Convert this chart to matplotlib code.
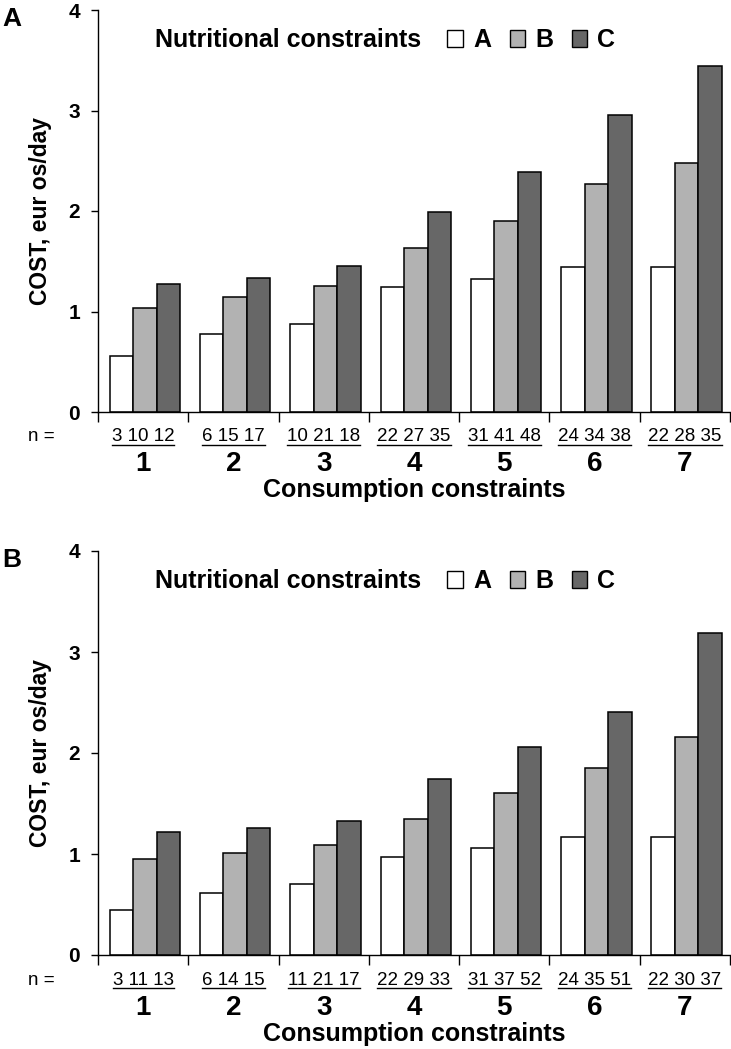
import matplotlib
matplotlib.use("Agg")
import matplotlib.pyplot as plt
from matplotlib.patches import Patch
from matplotlib.lines import Line2D
import numpy as np

FONT = ['Liberation Sans Narrow', 'Liberation Sans', 'DejaVu Sans']
plt.rcParams['font.family'] = FONT

groups = ['1', '2', '3', '4', '5', '6', '7']
series = ['A', 'B', 'C']

costA_A = [0.56, 0.78, 0.88, 1.24, 1.32, 1.44, 1.44]
costA_B = [1.03, 1.14, 1.25, 1.63, 1.90, 2.27, 2.48]
costA_C = [1.27, 1.33, 1.45, 1.99, 2.39, 2.96, 3.44]
nA = ['3 10 12', '6 15 17', '10 21 18', '22 27 35', '31 41 48', '24 34 38', '22 28 35']

costB_A = [0.45, 0.61, 0.70, 0.97, 1.06, 1.17, 1.17]
costB_B = [0.95, 1.01, 1.09, 1.35, 1.60, 1.85, 2.16]
costB_C = [1.22, 1.26, 1.33, 1.74, 2.06, 2.41, 3.19]
nB = ['3 11 13', '6 14 15', '11 21 17', '22 29 33', '31 37 52', '24 35 51', '22 30 37']

colors = ['white', '#b2b2b2', '#676767']
yticks = [0, 1, 2, 3, 4]

fig = plt.figure(figsize=(7.31, 10.49), dpi=100)
W, H = 731, 1049

def make_panel(rect, label, vals, ns):
    ax = fig.add_axes(rect)
    x = np.arange(len(groups))
    bw = 0.26
    for k, (v, c) in enumerate(zip(vals, colors)):
        ax.bar(x + (k - 1) * bw + 0.02, v, width=bw, color=c, edgecolor='black', linewidth=1.1)
    ax.set_xlim(-0.5, len(groups) - 0.5)
    ax.set_ylim(0, 4)
    ax.spines['top'].set_visible(False)
    ax.spines['right'].set_visible(False)
    ax.spines['left'].set_linewidth(1.0)
    ax.spines['bottom'].set_linewidth(1.0)
    ax.set_yticks(yticks)
    ax.set_yticklabels([str(t) for t in yticks], fontsize=15, fontweight='bold')
    ax.tick_params(axis='y', direction='out', length=5, width=1.0, pad=8)
    ax.set_xticks(np.arange(-0.5, len(groups), 1.0))
    ax.set_xticklabels([])
    ax.tick_params(axis='x', direction='out', length=7, width=1.0)
    ax.set_ylabel('COST, eur os/day', fontsize=16.5, fontweight='bold', labelpad=12)
    trans = ax.get_xaxis_transform()
    ntexts = []
    for i, (g, n) in enumerate(zip(groups, ns)):
        t = ax.text(i, -0.062, n, transform=trans, ha='center', va='center', fontsize=13.5)
        ntexts.append(t)
        ax.text(i, -0.13, g, transform=trans, ha='center', va='center', fontsize=20, fontweight='bold')
    ax.text(-0.089, -0.062, 'n =', transform=ax.transAxes, ha='center', va='center', fontsize=13.5)
    ax.text(0.5, -0.195, 'Consumption constraints', transform=ax.transAxes, ha='center', va='center',
            fontsize=18, fontweight='bold')
    ax.text(0.09, 0.925, 'Nutritional constraints', transform=ax.transAxes, ha='left', va='center',
            fontsize=18, fontweight='bold')
    handles = [Patch(facecolor=c, edgecolor='black', linewidth=1.0, label=s) for c, s in zip(colors, series)]
    ax.legend(handles=handles, ncol=3, frameon=False, loc='center left',
              bbox_to_anchor=(0.553, 0.925), handlelength=0.62, handleheight=0.7,
              handletextpad=0.4, columnspacing=0.75, borderpad=0, borderaxespad=0,
              prop={'family': FONT, 'weight': 'bold', 'size': 18})
    fig.text(2 / W, rect[1] + rect[3] - 0.009, label,
             fontsize=19, fontweight='bold', ha='left', va='center')
    return ax, ntexts

axA, ntA = make_panel([98 / W, 1 - 412 / H, 632 / W, 402 / H], 'A',
                      [costA_A, costA_B, costA_C], nA)
axB, ntB = make_panel([98 / W, 1 - 955 / H, 632 / W, 404 / H], 'B',
                      [costB_A, costB_B, costB_C], nB)

fig.canvas.draw()
r = fig.canvas.get_renderer()
inv = fig.transFigure.inverted()
for t in ntA + ntB:
    bb = t.get_window_extent(r)
    (x0, y0), (x1, y1) = inv.transform([(bb.x0, bb.y0), (bb.x1, bb.y1)])
    yl = y0 + 0.0008
    fig.add_artist(Line2D([x0, x1], [yl, yl], transform=fig.transFigure, color='black', linewidth=1.0))

fig.savefig('out.png', dpi=100)
